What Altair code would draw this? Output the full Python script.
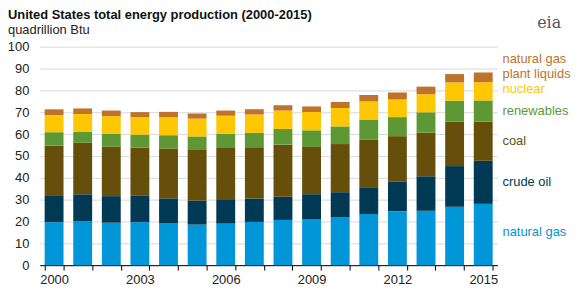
import altair as alt
import pandas as pd

years = list(range(2000, 2016))
natural_gas = [19.66, 20.17, 19.44, 19.69, 19.07, 18.56, 19.02, 19.79, 20.70, 21.14, 21.81, 23.41, 24.61, 24.89, 26.72, 28.07]
crude_oil = [12.36, 12.28, 12.16, 12.03, 11.50, 10.96, 10.80, 10.72, 10.61, 11.35, 11.59, 11.94, 13.76, 15.80, 18.63, 19.70]
coal = [22.74, 23.55, 22.73, 22.09, 22.85, 23.19, 23.79, 23.49, 23.85, 21.62, 22.04, 22.22, 20.68, 19.99, 20.28, 17.95]
renewables = [6.10, 5.16, 5.73, 5.94, 6.07, 6.22, 6.59, 6.52, 7.19, 7.62, 8.08, 9.11, 8.72, 9.30, 9.69, 9.68]
nuclear = [7.86, 8.03, 8.15, 7.96, 8.22, 8.16, 8.21, 8.46, 8.43, 8.36, 8.43, 8.27, 8.06, 8.27, 8.34, 8.34]
ngpl = [2.61, 2.55, 2.56, 2.35, 2.47, 2.33, 2.36, 2.41, 2.42, 2.57, 2.78, 2.97, 3.22, 3.47, 3.81, 4.47]

sources = ["natural gas", "crude oil", "coal", "renewables", "nuclear", "natural gas plant liquids"]
label_text = ["natural gas", "crude oil", "coal", "renewables", "nuclear", "natural gas\nplant liquids"]
colors = ["#0096d7", "#003953", "#654f0b", "#5e9834", "#ffc702", "#bd732a"]
series = [natural_gas, crude_oil, coal, renewables, nuclear, ngpl]
y_ticks = [0, 10, 20, 30, 40, 50, 60, 70, 80, 90, 100]

title_text = "United States total energy production (2000-2015)"
subtitle_text = "quadrillion Btu"

rows = []
for si, (name, vals) in enumerate(zip(sources, series)):
    for y, v in zip(years, vals):
        rows.append({"year": y, "source": name, "value": v, "order": si})
df = pd.DataFrame(rows)

# labels near the mid-point of each 2015 segment (small nudges to avoid overlap)
label_nudge = [1.0, 0.0, 0.0, 0.0, 1.2, 8.5]
labels = []
cum = 0.0
for si, vals in enumerate(series):
    v = vals[-1]
    labels.append({"source": sources[si], "text": label_text[si], "pos": cum + v / 2 + label_nudge[si]})
    cum += v
ldf = pd.DataFrame(labels)

FONT = "Liberation Sans"
color_scale = alt.Scale(domain=sources, range=colors)
yscale = alt.Scale(domain=[0, 100])
yaxis = alt.Axis(values=y_ticks, ticks=False, domain=False, labelOverlap=False,
                 gridColor="#d9d9d9", labelFontSize=13, labelFont=FONT,
                 labelColor="#222", labelPadding=11)

bars = alt.Chart(df).mark_bar().encode(
    x=alt.X("year:O", title=None,
            scale=alt.Scale(paddingInner=0.34, paddingOuter=0.17),
            axis=alt.Axis(labelAngle=0, tickBand="extent", domainColor="#000", tickColor="#000",
                          tickSize=5, labelFontSize=13, labelFont=FONT, labelColor="#222",
                          labelPadding=3, grid=False, labelOverlap=False,
                          labelExpr="(datum.value - 2000) % 3 == 0 ? datum.value : ''")),
    y=alt.Y("value:Q", title=None, stack="zero", scale=yscale, axis=yaxis),
    color=alt.Color("source:N", scale=color_scale, legend=None),
    order=alt.Order("order:Q"),
)

text = alt.Chart(ldf).mark_text(align="left", baseline="middle", fontSize=13, font=FONT,
                                lineBreak="\n", lineHeight=15).encode(
    x=alt.value(466),
    y=alt.Y("pos:Q", title=None, scale=yscale, axis=yaxis),
    text="text:N",
    color=alt.Color("source:N", scale=color_scale, legend=None),
)

head = pd.DataFrame({"t": [title_text, subtitle_text], "k": [0, 1]})
title_mark = alt.Chart(head).transform_filter("datum.k == 0").mark_text(
    align="left", baseline="alphabetic", fontSize=13, font=FONT, fontWeight="bold", color="#111"
).encode(x=alt.value(-32), y=alt.value(-28), text="t:N")
subtitle_mark = alt.Chart(head).transform_filter("datum.k == 1").mark_text(
    align="left", baseline="alphabetic", fontSize=13, font=FONT, color="#222"
).encode(x=alt.value(-32), y=alt.value(-13), text="t:N")

logo = alt.Chart(pd.DataFrame({"t": ["eia"]})).mark_text(
    align="center", baseline="middle", fontSize=16, font="DejaVu Serif", color="#555"
).encode(x=alt.value(513), y=alt.value(-24), text="t:N")

chart = alt.layer(bars, text, title_mark, subtitle_mark, logo).properties(
    width=461, height=220,
    autosize=alt.AutoSizeParams(type="none"),
    padding={"left": 32, "top": 38, "right": 75, "bottom": 20},
).configure_view(stroke=None)

chart.save("out.html", embed_options={"renderer": "svg", "actions": False})
